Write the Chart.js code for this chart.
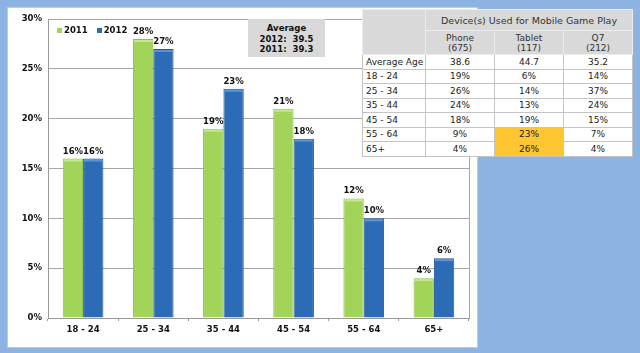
<!DOCTYPE html>
<html>
<head>
<meta charset="utf-8">
<script src="https://cdn.jsdelivr.net/npm/chart.js@4.4.0/dist/chart.umd.min.js"></script>
<style>
  html, body { margin: 0; padding: 0; }
  body { width: 640px; height: 353px; background: #8db3e2; position: relative; overflow: hidden; font-family: "DejaVu Sans", Verdana, sans-serif; }
  #panel { position: absolute; left: 7px; top: 7px; width: 469px; height: 339px; background: #fff; border: 1px solid #c9c9c9; }
  #chart { position: absolute; left: 0; top: 0; }
  #legend { position: absolute; left: 49px; top: 17px; font: bold 8.5px "DejaVu Sans", sans-serif; color: #111; white-space: nowrap; }
  #legend span.box { display: inline-block; width: 5px; height: 5px; margin-right: 2px; vertical-align: 0px; }
  #legend span.item { margin-right: 9px; }
  #avg { position: absolute; left: 240px; top: 11px; width: 77px; height: 38px; background: #d9d9d9; font: bold 8.5px/10.5px "DejaVu Sans", sans-serif; color: #111; text-align: center; padding-top: 4px; box-sizing: border-box; white-space: pre; }
  #tbl { position: absolute; left: 362px; top: 9px; border-collapse: collapse; table-layout: fixed; width: 270px; font: 9px "DejaVu Sans", sans-serif; color: #222; background: #fff; }
  #tbl td { border: 1px solid #c4c4c4; padding: 0; text-align: center; overflow: hidden; white-space: nowrap; }
  #tbl td.lab { text-align: left; padding-left: 3px; }
  #tbl tr.h td { background: #d9d9d9; color: #333; border-color: #ececec; }
  #tbl td.hl { background: #fec732; }
  #tbl tr.r td { height: 13.5px; }
</style>
</head>
<body>
<div id="panel">
  <canvas id="chart" width="469" height="339"></canvas>
  <div id="legend"></div>
  <div id="avg"></div>
</div>
<table id="tbl"></table>
<script>
const categories = ["18 - 24", "25 - 34", "35 - 44", "45 - 54", "55 - 64", "65+"];
const seriesNames = ["2011", "2012"];
const values2011 = [16, 28, 19, 21, 12, 4];
const values2012 = [16, 27, 23, 18, 10, 6];
const yTicks = [0, 5, 10, 15, 20, 25, 30];
const averages = [["2012", "39.5"], ["2011", "39.3"]];

const tableTitle = "Device(s) Used for Mobile Game Play";
const devices = ["Phone", "Tablet", "Q7"];
const deviceCounts = ["675", "117", "212"];
const rowLabels = ["Average Age", "18 - 24", "25 - 34", "35 - 44", "45 - 54", "55 - 64", "65+"];
const phone = ["38.6", "19%", "26%", "24%", "18%", "9%", "4%"];
const tablet = ["44.7", "6%", "14%", "13%", "19%", "23%", "26%"];
const q7 = ["35.2", "14%", "37%", "24%", "15%", "7%", "4%"];
const highlighted = [[5, 1], [6, 1]];

const colors = ["#a2d45a", "#2c6cb6"];
const edges = ["#8cbf45", "#24599c"];
const caps = ["#c4e88c", "#5a93d4"];

// legend + average box
document.getElementById('legend').innerHTML = seriesNames.map((n, i) =>
  '<span class="item"><span class="box" style="background:' + colors[i] + '"></span>' + n + '</span>').join('');
document.getElementById('avg').textContent = 'Average\n' + averages.map(a => a[0] + ':  ' + a[1]).join('\n');

// table
let html = '<colgroup><col style="width:63px"><col style="width:69px"><col style="width:69px"><col style="width:69px"></colgroup>';
html += '<tr class="h" style="height:21px"><td rowspan="2"></td><td colspan="3" style="font-size:9.5px">' + tableTitle + '</td></tr>';
html += '<tr class="h" style="height:24px">' + devices.map((d, i) => '<td style="line-height:10px">' + d + '<br>(' + deviceCounts[i] + ')</td>').join('') + '</tr>';
rowLabels.forEach((lab, r) => {
  const cells = [phone[r], tablet[r], q7[r]];
  html += '<tr class="r"><td class="lab">' + lab + '</td>' + cells.map((c, k) => {
    const hl = highlighted.some(h => h[0] === r && h[1] === k);
    return '<td' + (hl ? ' class="hl"' : '') + '>' + c + '</td>';
  }).join('') + '</tr>';
});
document.getElementById('tbl').innerHTML = html;

// bevel cap on top of each bar + value labels
const barLabels = {
  id: 'barLabels',
  afterDatasetsDraw(chart) {
    const ctx = chart.ctx;
    ctx.save();
    chart.data.datasets.forEach((ds, i) => {
      chart.getDatasetMeta(i).data.forEach(bar => {
        const w = bar.width;
        ctx.fillStyle = caps[i];
        ctx.fillRect(bar.x - w / 2 + 1, bar.y + 1, w - 2, 2);
      });
    });
    ctx.font = 'bold 8.5px "DejaVu Sans", sans-serif';
    ctx.fillStyle = '#111';
    ctx.textAlign = 'center';
    ctx.textBaseline = 'bottom';
    chart.data.datasets.forEach((ds, i) => {
      chart.getDatasetMeta(i).data.forEach((bar, j) => {
        ctx.fillText(ds.data[j] + '%', bar.x, bar.y - 3);
      });
    });
    ctx.restore();
  }
};

const plotBorder = {
  id: 'plotBorder',
  beforeDatasetsDraw(chart) {
    const a = chart.chartArea, ctx = chart.ctx;
    ctx.save();
    ctx.strokeStyle = '#a6a6a6';
    ctx.lineWidth = 1;
    ctx.beginPath();
    ctx.moveTo(Math.round(a.right) + 0.5, a.top);
    ctx.lineTo(Math.round(a.right) + 0.5, a.bottom);
    ctx.stroke();
    ctx.restore();
  }
};

new Chart(document.getElementById('chart'), {
  type: 'bar',
  data: {
    labels: categories,
    datasets: [
      { label: seriesNames[0], data: values2011, backgroundColor: colors[0], borderColor: edges[0], borderWidth: 1 },
      { label: seriesNames[1], data: values2012, backgroundColor: colors[1], borderColor: edges[1], borderWidth: 1 }
    ]
  },
  options: {
    responsive: false,
    animation: false,
    layout: { padding: { left: 0, top: 10, right: 8, bottom: 0 } },
    datasets: { bar: { barPercentage: 1, categoryPercentage: 0.58 } },
    plugins: { legend: { display: false }, tooltip: { enabled: false } },
    scales: {
      x: {
        grid: { drawOnChartArea: false, drawTicks: true, tickLength: 3, color: '#999' },
        border: { color: '#999' },
        ticks: { color: '#111', padding: 4, font: { family: 'DejaVu Sans', size: 8.5, weight: 'bold' } },
        afterFit(s) { s.height = 29; }
      },
      y: {
        min: 0, max: 30,
        afterBuildTicks(s) { s.ticks = yTicks.map(v => ({ value: v })); },
        grid: { color: '#a6a6a6', drawTicks: false },
        border: { color: '#999' },
        ticks: { color: '#111', padding: 6, callback: v => v + '%', font: { family: 'DejaVu Sans', size: 8.5, weight: 'bold' } },
        afterFit(s) { s.width = 40; }
      }
    }
  },
  plugins: [barLabels, plotBorder]
});
</script>
</body>
</html>
